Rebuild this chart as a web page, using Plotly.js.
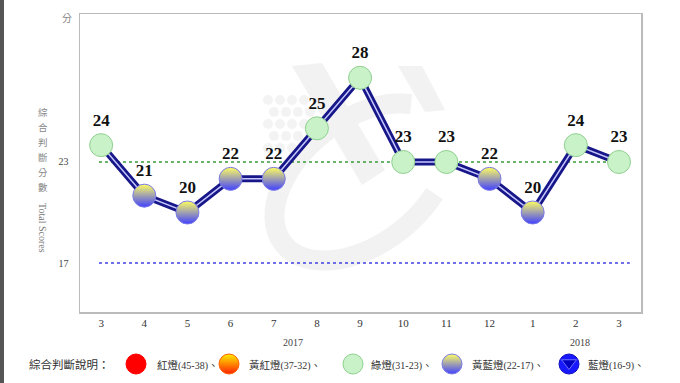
<!DOCTYPE html>
<html>
<head>
<meta charset="utf-8">
<script src="https://cdn.plot.ly/plotly-3.0.1.min.js"></script>
<style>html,body{margin:0;padding:0;background:#fff;}#chart{width:680px;height:383px;}</style>
</head>
<body>
<div id="chart"></div>
<script>
// ---- data ----
var months = ['3','4','5','6','7','8','9','10','11','12','1','2','3'];
var scores = [24, 21, 20, 22, 22, 25, 28, 23, 23, 22, 20, 24, 23];
var years = ['2017', '2018'];
var yearAt = [4.45, 11.1];        // category position under which each year label sits
var yTicks = [23, 17];
var thresholds = [23, 17];        // green / yellow-blue boundary lines
var legendNames = ['紅燈', '黃紅燈', '綠燈', '黃藍燈', '藍燈'];
var legendRanges = ['(45-38)', '(37-32)', '(31-23)', '(22-17)', '(16-9)'];
var legendTitle = '綜合判斷說明：';
var yTitleZh = '綜合判斷分數';
var yTitleEn = 'Total Scores';
var yUnit = '分';

// ---- page geometry (pixels) ----
var W = 680, H = 383;
var PL = 80, PR = 641, PT = 14, PB = 312;     // plot frame in page pixels
function fx(x){ return x / W; }               // page pixel -> paper x
function fy(y){ return 1 - y / H; }           // page pixel -> paper y

var idx = months.map(function(_, i){ return i; });
var serif = 'Liberation Serif, Times New Roman, serif';
var cjk = 'Noto Sans CJK TC, sans-serif';

function lamp(v){ return v >= 23 ? 'green' : (v >= 17 ? 'yb' : 'blue'); }
var mColor = scores.map(function(v){ return lamp(v)==='green' ? '#c9f2c9' : '#ffff60'; });
var mGradColor = scores.map(function(v){ return lamp(v)==='green' ? '#c9f2c9' : '#4040ff'; });
var mGradType = scores.map(function(v){ return lamp(v)==='green' ? 'none' : 'vertical'; });
var mLine = scores.map(function(v){ return lamp(v)==='green' ? '#8fd08f' : '#7a7ae8'; });

var traces = [
  {x: idx, y: scores, mode: 'lines', line: {color: '#17178a', width: 7}, hoverinfo: 'skip', showlegend: false},
  {x: idx, y: scores, mode: 'lines', line: {color: '#c8c8ff', width: 1.5}, hoverinfo: 'skip', showlegend: false},
  {x: idx, y: scores, mode: 'markers+text', text: scores.map(String), textposition: 'top center',
   textfont: {family: serif, size: 17, color: '#111', weight: 'bold'},
   marker: {size: 23, color: mColor, line: {color: mLine, width: 1},
            gradient: {type: mGradType, color: mGradColor}},
   hoverinfo: 'skip', showlegend: false, cliponaxis: false}
];

// legend markers on a full-page pixel axis (x2/y2)
var legX = [136, 229, 353, 452, 569];
var legY = [364, 364, 364, 364, 364];
traces.push({x: legX, y: legY, xaxis: 'x2', yaxis: 'y2', mode: 'markers', hoverinfo: 'skip', showlegend: false,
  marker: {size: 20, symbol: 'circle',
    color: ['#ff0000', '#ffee00', '#c9f2c9', '#ffff60', '#1818ff'],
    gradient: {type: ['none', 'vertical', 'none', 'vertical', 'none'], color: ['#ff0000', '#ff2000', '#c9f2c9', '#4040ff', '#1818ff']},
    line: {color: ['#ff0000', '#ff6000', '#8fd08f', '#7a7ae8', '#1010c0'], width: 1}}});
traces.push({x: [legX[4]], y: [legY[4]-1], xaxis: 'x2', yaxis: 'y2', mode: 'markers', hoverinfo: 'skip', showlegend: false,
  marker: {size: 13, symbol: 'triangle-down', color: '#0000c0', line: {color: '#7070ff', width: 1}}});

// ---- watermark (approximate, very faint) ----
var shapes = [];
var wm = '#f2f2f2';
(function(){
  var cx = 362, cy = 182, a = 100, b = 62, rot = -38 * Math.PI / 180;
  var pts = [];
  for (var t = 60; t <= 330; t += 6) {
    var th = t * Math.PI / 180;
    var ex = a * Math.cos(th), ey = b * Math.sin(th);
    var X = cx + ex * Math.cos(rot) - ey * Math.sin(rot);
    var Y = cy + ex * Math.sin(rot) + ey * Math.cos(rot);
    pts.push(fx(X).toFixed(4) + ',' + fy(Y).toFixed(4));
  }
  shapes.push({type: 'path', xref: 'paper', yref: 'paper', layer: 'below', line: {color: wm, width: 20},
    path: 'M ' + pts.join(' L ')});
})();
function poly(p){ return 'M ' + p.map(function(q){ return fx(q[0]).toFixed(4) + ',' + fy(q[1]).toFixed(4); }).join(' L ') + ' Z'; }
shapes.push({type: 'path', xref: 'paper', yref: 'paper', layer: 'below', fillcolor: wm, line: {width: 0},
  path: poly([[292,66],[322,63],[385,170],[362,185]])});
shapes.push({type: 'path', xref: 'paper', yref: 'paper', layer: 'below', fillcolor: wm, line: {width: 0},
  path: poly([[398,66],[422,66],[445,110],[425,112]])});
for (var r = 0; r < 5; r++) {
  for (var c = 0; c < 4; c++) {
    var dx = 268 + c * 12 + (r % 2) * 6, dy = 100 + r * 12;
    if (dx > 320) continue;
    shapes.push({type: 'circle', xref: 'paper', yref: 'paper', layer: 'below', fillcolor: '#f3f3f3', line: {width: 0},
      x0: fx(dx - 5), x1: fx(dx + 5), y0: fy(dy + 5), y1: fy(dy - 5)});
  }
}
// threshold lines
shapes.push({type: 'line', xref: 'x', yref: 'y', x0: -0.05, x1: 12.25, y0: thresholds[0], y1: thresholds[0],
   line: {color: '#3a9a3a', width: 1.3, dash: 'dot'}, layer: 'below'});
shapes.push({type: 'line', xref: 'x', yref: 'y', x0: -0.05, x1: 12.25, y0: thresholds[1], y1: thresholds[1],
   line: {color: '#4040e0', width: 1.3, dash: 'dot'}, layer: 'below'});
// left dark strip
shapes.push({type: 'rect', xref: 'paper', yref: 'paper', x0: 0, x1: fx(4), y0: 0, y1: 1,
  fillcolor: '#555', line: {width: 0}});

function ann(x, y, text, font, extra){
  var a = {xref: 'paper', yref: 'paper', x: fx(x), y: fy(y), text: text, showarrow: false,
           xanchor: 'center', yanchor: 'middle', font: font};
  for (var k in (extra || {})) a[k] = extra[k];
  return a;
}
var annotations = [
  ann(67, 17, yUnit, {family: cjk, size: 10, color: '#888'}),
  ann(43, 228, yTitleEn, {family: serif, size: 10, color: '#777'}, {textangle: 90}),
  ann(27, 364, legendTitle, {family: cjk, size: 11.5, color: '#333'}, {xanchor: 'left'})
];
yTitleZh.split('').forEach(function(ch, i){
  annotations.push(ann(43, 112 + i * 15, ch, {family: cjk, size: 9.5, color: '#888'}));
});
years.forEach(function(yr, i){
  annotations.push({xref: 'x', yref: 'paper', x: yearAt[i], y: fy(342), text: yr, showarrow: false,
    xanchor: 'center', yanchor: 'middle', font: {family: serif, size: 10, color: '#444'}});
});
var legTextX = [155, 247, 369, 470, 586];
legendNames.forEach(function(t, i){
  var txt = t + '<span style="font-family:Liberation Serif, serif;font-size:10px">' + legendRanges[i] + '</span>、';
  annotations.push(ann(legTextX[i], 364, txt, {family: cjk, size: 10.5, color: '#333'}, {xanchor: 'left'}));
});

var layout = {
  width: W, height: H,
  margin: {l: 0, r: 0, t: 0, b: 0, pad: 0},
  paper_bgcolor: '#fff', plot_bgcolor: 'rgba(0,0,0,0)',
  showlegend: false,
  xaxis: {domain: [PL / W, PR / W], range: [-0.49, 12.51], tickvals: idx, ticktext: months, showgrid: false, zeroline: false,
          showline: true, mirror: true, linecolor: '#bbb', linewidth: 1.5, ticks: '',
          tickfont: {family: serif, size: 11, color: '#333'}, fixedrange: true},
  yaxis: {domain: [1 - PB / H, 1 - PT / H], range: [14.09, 31.79], tickvals: yTicks, showgrid: false, zeroline: false,
          showline: true, mirror: true, linecolor: '#bbb', linewidth: 1.5, ticks: '', ticklabelstandoff: 8,
          tickfont: {family: serif, size: 10, color: '#444'}, fixedrange: true},
  xaxis2: {domain: [0, 1], range: [0, W], visible: false, anchor: 'y2', fixedrange: true},
  yaxis2: {domain: [0, 1], range: [H, 0], visible: false, anchor: 'x2', fixedrange: true},
  shapes: shapes,
  annotations: annotations
};

Plotly.newPlot('chart', traces, layout, {displayModeBar: false, staticPlot: true});
</script>
</body>
</html>
